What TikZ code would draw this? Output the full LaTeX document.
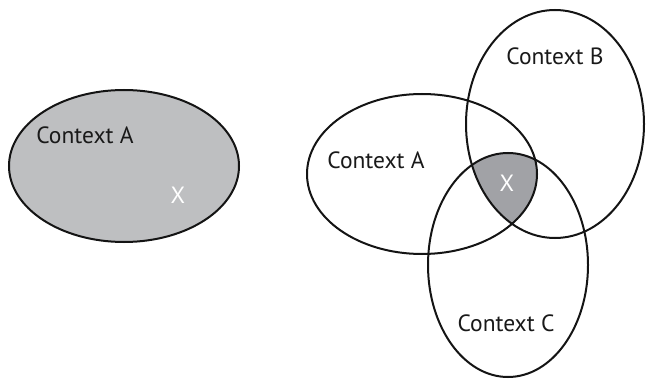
\documentclass[tikz,border=0pt]{standalone}
\usepackage{fontspec}
\setmainfont{PT Sans}
\definecolor{lightfill}{RGB}{190,191,193}
\definecolor{darkfill}{RGB}{161,162,166}
\tikzset{
  ring/.style={draw=black!92, line width=2pt},
  lbl/.style={font=\fontsize{23.5}{26}\selectfont, text=black!90, inner sep=0pt},
  xlbl/.style={font=\fontsize{23.5}{26}\selectfont, text=white, inner sep=0pt}
}
\begin{document}
\begin{tikzpicture}[x=1pt,y=-1pt]
\useasboundingbox (0,0) rectangle (647,379);
% left
\fill[lightfill] (124,166) ellipse [x radius=115, y radius=76];
\draw[ring] (124,166) ellipse [x radius=115, y radius=76];
\node[lbl] (la) at (85,135) {Context A};
\node[xlbl] (lx) at (178,195) {X};
% right: intersection
\begin{scope}
  \clip (422,174) ellipse [x radius=115, y radius=80];
  \clip (555,124) ellipse [x radius=89, y radius=114];
  \fill[darkfill] (508,265) ellipse [x radius=80, y radius=112];
\end{scope}
\draw[ring] (422,174) ellipse [x radius=115, y radius=80];
\draw[ring] (555,124) ellipse [x radius=89, y radius=114];
\draw[ring] (508,265) ellipse [x radius=80, y radius=112];
\node[lbl] (ra) at (376,160) {Context A};
\node[lbl] (rb) at (555,56) {Context B};
\node[lbl] (rc) at (506,323) {Context C};
\node[xlbl] (rx) at (507,183) {X};
\end{tikzpicture}
\end{document}
